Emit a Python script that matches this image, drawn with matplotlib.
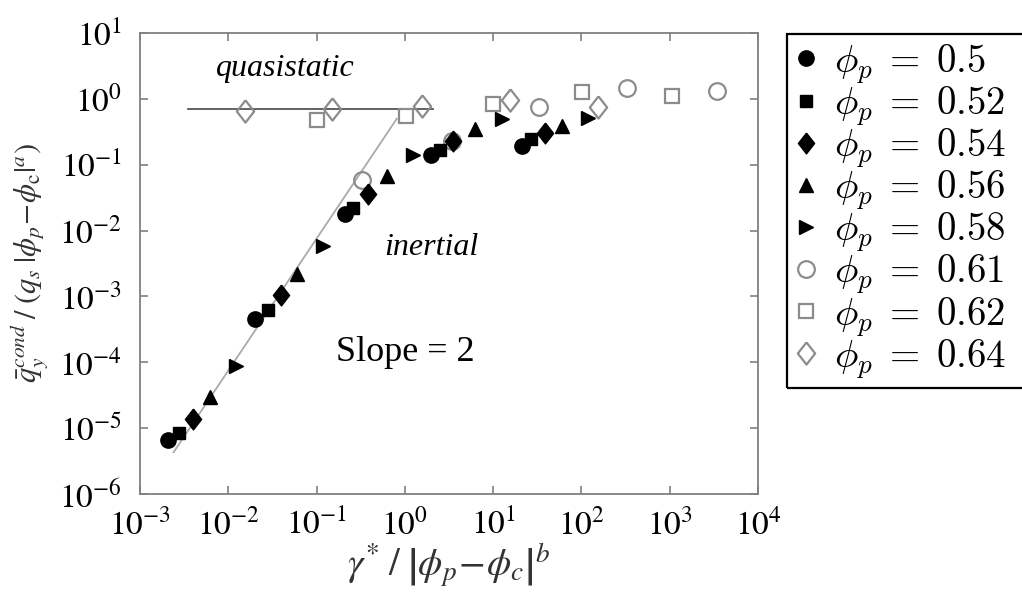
import math
import matplotlib
matplotlib.use('Agg')
import matplotlib.pyplot as plt
from matplotlib.font_manager import FontProperties
from matplotlib.patches import Rectangle
from matplotlib.ticker import LogLocator, FuncFormatter, NullLocator

plt.rcParams['mathtext.fontset'] = 'stix'
plt.rcParams['font.family'] = 'Liberation Serif'

# volume fractions and markers
labels = ['0.5', '0.52', '0.54', '0.56', '0.58', '0.61', '0.62', '0.64']
diamond = [(0, 1), (0.78, 0), (0, -1), (-0.78, 0), (0, 1)]
markers = ['o', 's', diamond, '^', '>', 'o', 's', diamond]
filled = [True, True, True, True, True, False, False, False]

# scaled shear rate (x) and scaled conductive heat flux (y)
x_050 = [2.1e-3, 0.020, 0.21, 2.0, 21]
y_050 = [6.6e-6, 4.5e-4, 0.018, 0.14, 0.19]
x_052 = [2.8e-3, 0.028, 0.26, 2.5, 27]
y_052 = [8.3e-6, 6.2e-4, 0.022, 0.17, 0.25]
x_054 = [4.0e-3, 0.040, 0.38, 3.5, 39]
y_054 = [1.4e-5, 1.05e-3, 0.036, 0.23, 0.30]
x_056 = [6.2e-3, 0.060, 0.62, 6.2, 60]
y_056 = [3.0e-5, 2.2e-3, 0.068, 0.35, 0.39]
x_058 = [0.0123, 0.117, 1.23, 12.6, 120]
y_058 = [8.7e-5, 5.9e-3, 0.14, 0.50, 0.51]
x_061 = [0.33, 3.4, 33, 330, 3400]
y_061 = [0.058, 0.23, 0.76, 1.48, 1.32]
x_062 = [0.10, 1.02, 10, 102, 1050]
y_062 = [0.47, 0.55, 0.83, 1.29, 1.12]
x_064 = [0.0155, 0.15, 1.55, 15.5, 155]
y_064 = [0.66, 0.71, 0.78, 0.95, 0.76]

xs = [x_050, x_052, x_054, x_056, x_058, x_061, x_062, x_064]
ys = [y_050, y_052, y_054, y_056, y_058, y_061, y_062, y_064]

# guide lines
quasi_x = [3.5e-3, 2.06]
quasi_y = [0.7, 0.7]
slope_x = [2.4e-3, 0.81]
slope_y = [4.3e-6, 0.5]

fig = plt.figure(figsize=(10.22, 6.09), dpi=100)
ax = fig.add_axes([0.137, 0.1888, 0.6047, 0.757])

ax.plot(quasi_x, quasi_y, color='#555555', lw=1.3, zorder=1)
ax.plot(slope_x, slope_y, color='#aaaaaa', lw=1.3, zorder=1)

sizes = [11, 9, 15, 10, 10, 12, 10, 16]
for x, y, m, f, lab, ms in zip(xs, ys, markers, filled, labels, sizes):
    name = r'$\phi_p\;=\;%s$' % lab
    if f:
        ax.plot(x, y, ls='none', marker=m, ms=ms, mfc='black', mec='black',
                label=name, zorder=3)
    else:
        ax.plot(x, y, ls='none', marker=m, ms=ms, mfc='none', mec='#8c8c8c',
                mew=1.6, label=name, zorder=2)

ax.set_xscale('log')
ax.set_yscale('log')
ax.set_xlim(1e-3, 1e4)
ax.set_ylim(1e-6, 1e1)
ax.xaxis.set_major_locator(LogLocator(base=10, numticks=20))
ax.yaxis.set_major_locator(LogLocator(base=10, numticks=20))
ax.xaxis.set_minor_locator(NullLocator())
ax.yaxis.set_minor_locator(NullLocator())
fmt = FuncFormatter(lambda v, p: r'$10^{%d}$' % round(math.log10(v)))
ax.xaxis.set_major_formatter(fmt)
ax.yaxis.set_major_formatter(fmt)

for s in ax.spines.values():
    s.set_color('#808080')
    s.set_linewidth(1.3)
ax.tick_params(which='both', direction='in', top=True, right=True,
               length=6, width=1.2, color='#808080', labelsize=24)
ax.tick_params(axis='x', pad=11)
ax.tick_params(axis='y', pad=13)

ax.set_xlabel(r'$\gamma^{*}\;/\;\left|\phi_p\!-\!\phi_c\right|^{b}$', fontsize=28,
              color='#333333', labelpad=0)
ax.set_ylabel(r'$\bar{q}_y^{cond}\;/\;(q_s\;|\phi_p\!-\!\phi_{\mathrm{c}}|^{a})$', fontsize=22,
              color='#333333', labelpad=6)

ax.text(0.235, 0.924, 'quasistatic', transform=ax.transAxes, fontsize=23,
        style='italic', ha='center', va='center')
ax.text(0.472, 0.534, 'inertial', transform=ax.transAxes, fontsize=23,
        style='italic', ha='center', va='center')
ax.text(0.429, 0.308, 'Slope = 2', transform=ax.transAxes, fontsize=26,
        ha='center', va='center')

# legend box runs past the right edge of the figure, as in the original
leg_font = FontProperties(family='DejaVu Sans', size=28, math_fontfamily='cm')
fig.legend(loc='upper left', bbox_to_anchor=(0.770, 0.944), prop=leg_font,
           frameon=False, handlelength=0.6, handletextpad=0.4, labelspacing=-0.04,
           borderpad=0.2, borderaxespad=0)
fig.patches.append(Rectangle((0.770, 0.363), 0.3, 0.581, transform=fig.transFigure,
                             fill=False, edgecolor='black', lw=1.6, clip_on=False))

fig.savefig('out.png', dpi=100)
